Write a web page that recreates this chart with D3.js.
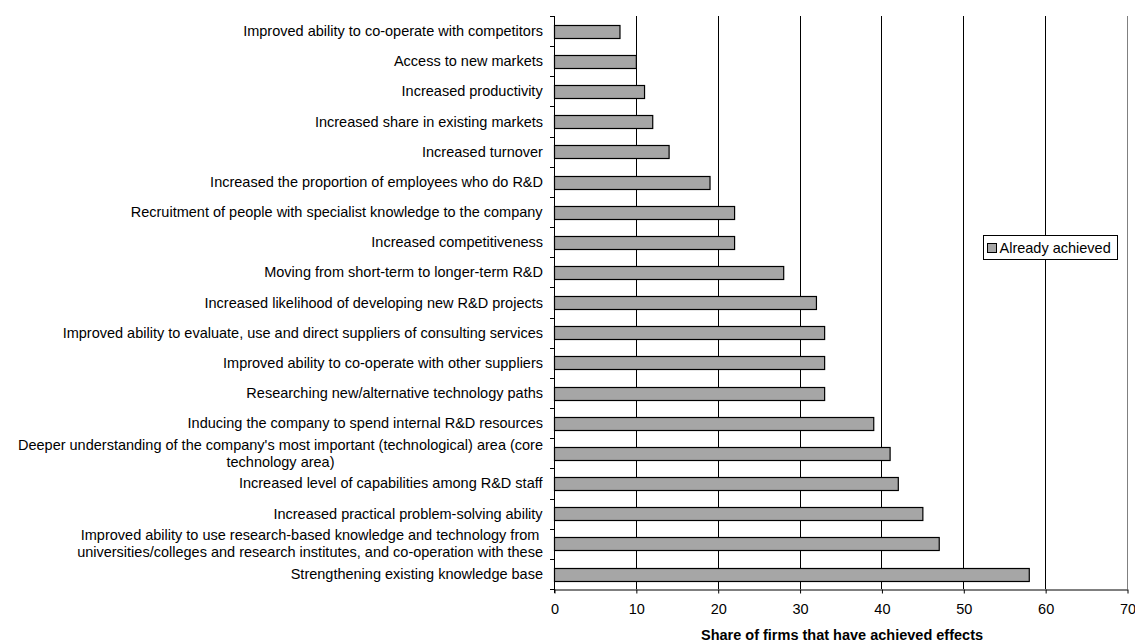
<!DOCTYPE html>
<html>
<head>
<meta charset="utf-8">
<script src="https://cdn.jsdelivr.net/npm/d3@7/dist/d3.min.js"></script>
<style>
  html, body { margin: 0; padding: 0; background: #fff; }
  svg { display: block; font-family: "Liberation Sans", Arial, sans-serif; }
</style>
</head>
<body>
<svg id="chart" width="1135" height="643"></svg>
<script>
// Effects of participation, listed top to bottom (label lines split with "\n")
const categories = [
  "Improved ability to co-operate with competitors",
  "Access to new markets",
  "Increased productivity",
  "Increased share in existing markets",
  "Increased turnover",
  "Increased the proportion of employees who do R&D",
  "Recruitment of people with specialist knowledge to the company",
  "Increased competitiveness",
  "Moving from short-term to longer-term R&D",
  "Increased likelihood of developing new R&D projects",
  "Improved ability to evaluate, use and direct suppliers of consulting services",
  "Improved ability to co-operate with other suppliers",
  "Researching new/alternative technology paths",
  "Inducing the company to spend internal R&D resources",
  "Deeper understanding of the company's most important (technological) area (core\ntechnology area)",
  "Increased level of capabilities among R&D staff",
  "Increased practical problem-solving ability",
  "Improved ability to use research-based knowledge and technology from\nuniversities/colleges and research institutes, and co-operation with these",
  "Strengthening existing knowledge base"
];

// Share of firms (%) reporting the effect as already achieved
const alreadyAchieved = [8, 10, 11, 12, 14, 19, 22, 22, 28, 32, 33, 33, 33, 39, 41, 42, 45, 47, 58];

const xTicks = [0, 10, 20, 30, 40, 50, 60, 70];
const seriesName = "Already achieved";
const axisTitle = "Share of firms that have achieved effects";

const FONT = 14.5;
const svg = d3.select("#chart");
const plot = { left: 554, right: 1127, top: 16, bottom: 589 };

const x = d3.scaleLinear().domain([0, 70]).range([plot.left, plot.right]);
const y = d3.scaleBand().domain(categories).range([plot.top, plot.bottom]).paddingInner(0.58).paddingOuter(0.29);
const band = d3.scaleBand().domain(categories).range([plot.top, plot.bottom]);

// Vertical gridlines
svg.append("g")
  .selectAll("line")
  .data(xTicks.filter(t => t > 0 && t < 70))
  .join("line")
  .attr("x1", d => Math.round(x(d)) + 0.5)
  .attr("x2", d => Math.round(x(d)) + 0.5)
  .attr("y1", plot.top)
  .attr("y2", plot.bottom)
  .attr("stroke", "#000")
  .attr("stroke-width", 1);

// Right edge of plot area
svg.append("line")
  .attr("x1", Math.round(x(70)) + 0.5).attr("x2", Math.round(x(70)) + 0.5)
  .attr("y1", plot.top).attr("y2", plot.bottom)
  .attr("stroke", "#808080");

// Bars
svg.append("g")
  .selectAll("rect")
  .data(categories.map((c, i) => ({ c, v: alreadyAchieved[i] })))
  .join("rect")
  .attr("x", x(0) + 0.5)
  .attr("y", d => Math.round(y(d.c)) + 0.5)
  .attr("width", d => x(d.v) - x(0))
  .attr("height", Math.round(y.bandwidth()))
  .attr("fill", "#a6a6a6")
  .attr("stroke", "#000")
  .attr("stroke-width", 1.2);

// Category axis (left) with ticks between categories
const leftAxis = svg.append("g");
leftAxis.append("line")
  .attr("x1", plot.left + 0.5).attr("x2", plot.left + 0.5)
  .attr("y1", plot.top).attr("y2", plot.bottom + 4)
  .attr("stroke", "#000");
const boundaries = categories.map(c => band(c)).concat([plot.bottom]);
leftAxis.selectAll("line.tick")
  .data(boundaries)
  .join("line")
  .attr("class", "tick")
  .attr("x1", plot.left - 4).attr("x2", plot.left)
  .attr("y1", d => Math.round(d) + 0.5)
  .attr("y2", d => Math.round(d) + 0.5)
  .attr("stroke", "#000");

// Category labels: block right-aligned, lines centred within the block
const lineH = 17;
categories.forEach(c => {
  const lines = c.split("\n");
  const cy = band(c) + band.bandwidth() / 2;
  const g = svg.append("g");
  const t = g.append("text")
    .attr("font-size", FONT)
    .attr("fill", "#000")
    .attr("text-anchor", "middle");
  lines.forEach((ln, i) => {
    t.append("tspan")
      .attr("x", 0)
      .attr("y", cy + (i - (lines.length - 1) / 2) * lineH + 5)
      .text(ln);
  });
  const w = t.node().getBBox().width;
  g.attr("transform", `translate(${543 - w / 2},0)`);
});

// Value axis (bottom)
const xAxis = d3.axisBottom(x).tickValues(xTicks).tickSize(4).tickPadding(10).tickSizeOuter(0);
const xg = svg.append("g")
  .attr("transform", `translate(0.5,${plot.bottom + 0.5})`)
  .call(xAxis);
xg.select(".domain").attr("stroke", "#000");
xg.selectAll(".tick line").attr("stroke", "#000");
xg.selectAll(".tick text")
  .attr("font-size", FONT)
  .attr("fill", "#000")
  .attr("font-family", "Liberation Sans, Arial, sans-serif");

// Axis title
svg.append("text")
  .attr("x", 842)
  .attr("y", 640)
  .attr("text-anchor", "middle")
  .attr("font-size", FONT)
  .attr("font-weight", "bold")
  .text(axisTitle);

// Legend
const lg = svg.append("g").attr("transform", "translate(983.5,235.5)");
lg.append("rect").attr("width", 134).attr("height", 24).attr("fill", "#fff").attr("stroke", "#000");
lg.append("rect").attr("x", 4).attr("y", 8).attr("width", 9).attr("height", 9)
  .attr("fill", "#a6a6a6").attr("stroke", "#000");
lg.append("text").attr("x", 16).attr("y", 17.5).attr("font-size", FONT).text(seriesName);
</script>
</body>
</html>
